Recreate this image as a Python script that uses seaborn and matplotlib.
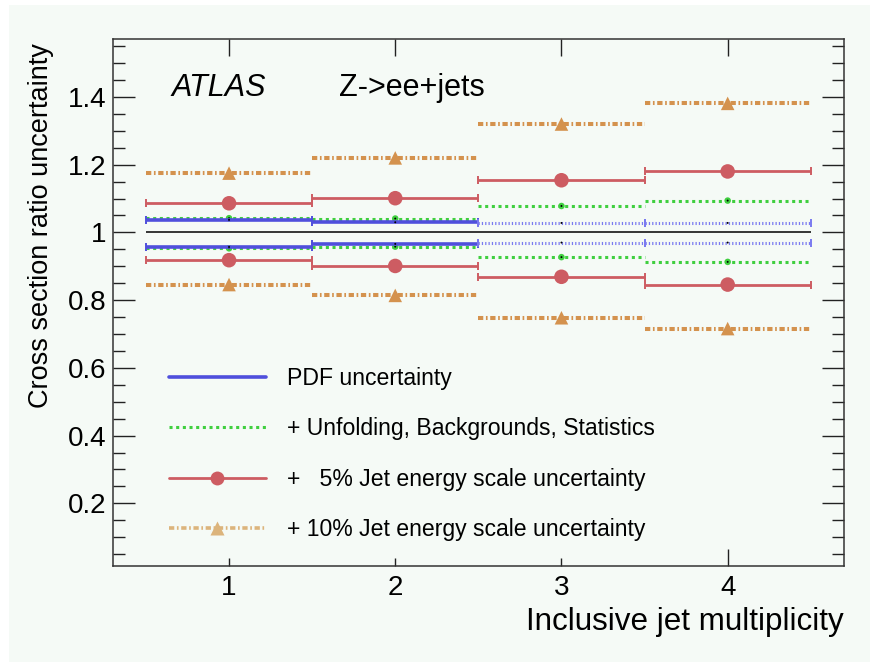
import matplotlib
matplotlib.use("Agg")
import matplotlib.pyplot as plt
import numpy as np
import pandas as pd
import seaborn as sns
from matplotlib.lines import Line2D
from matplotlib.patches import Rectangle
from matplotlib.ticker import FixedLocator, MultipleLocator, FuncFormatter

# ---- data: relative uncertainty bands per inclusive jet multiplicity bin ----
n_jets = [1, 2, 3, 4]
pdf_up = [1.037, 1.030, 1.028, 1.028]
pdf_dn = [0.957, 0.966, 0.970, 0.970]
unf_up = [1.042, 1.041, 1.078, 1.094]
unf_dn = [0.953, 0.958, 0.927, 0.913]
jes5_up = [1.086, 1.101, 1.154, 1.180]
jes5_dn = [0.918, 0.901, 0.869, 0.846]
jes10_up = [1.175, 1.220, 1.320, 1.381]
jes10_dn = [0.846, 0.814, 0.748, 0.716]
legend_labels = [
    "PDF uncertainty",
    "+ Unfolding, Backgrounds, Statistics",
    "+   5% Jet energy scale uncertainty",
    "+ 10% Jet energy scale uncertainty",
]

BG = "#f5faf6"
BLUE = "#4f4fdc"
BLUE_LIGHT = "#7a7af0"
GREEN = "#3fcf3f"
RED = "#cd5c62"
ORANGE = "#d4924e"
ORANGE_LEG = "#dcb47c"

sns.set_theme(style="ticks")
plt.rcParams["font.family"] = ["Liberation Sans", "DejaVu Sans"]
plt.rcParams["lines.scale_dashes"] = False
plt.rcParams["text.color"] = "black"
plt.rcParams["xtick.color"] = "black"
plt.rcParams["ytick.color"] = "black"
plt.rcParams["xtick.labelcolor"] = "black"
plt.rcParams["ytick.labelcolor"] = "black"

fig = plt.figure(figsize=(8.79, 6.67), dpi=100)
fig.patch.set_facecolor("white")
fig.patches.append(Rectangle((9 / 879, 5 / 667), 861 / 879, 657 / 667,
                             transform=fig.transFigure, facecolor=BG,
                             edgecolor="none", zorder=-10))
ax = fig.add_axes([0.1282, 0.1514, 0.8320, 0.7906])
ax.set_facecolor(BG)

half_width = 0.5
DASHDOT = (0, (3.8, 1.9, 1.2, 1.9))
GREEN_DOT = (0, (2.2, 2.6))
FINE_DOT = (0, (0.9, 1.5))


def band(values, color, lw, styles, cap, z):
    """Horizontal bin-wide bars, one per jet multiplicity bin."""
    for x, y, style in zip(n_jets, values, styles):
        eb = ax.errorbar([x], [y], xerr=half_width, fmt="none", ecolor=color,
                         elinewidth=lw, capsize=cap, capthick=1.4, zorder=z)
        for lc in eb.lines[2]:
            lc.set_linestyle(style)


# nominal reference line
ax.hlines(1.0, n_jets[0] - half_width, n_jets[-1] + half_width,
          color="black", lw=1.1, zorder=1)

# 10% JES (outermost)
for vals in (jes10_up, jes10_dn):
    band(vals, ORANGE, 2.9, [DASHDOT] * 4, 0, 2)
    sns.scatterplot(x=n_jets, y=vals, marker="^", s=95, color=ORANGE,
                    edgecolor="none", ax=ax, legend=False, zorder=3)

# 5% JES
for vals in (jes5_up, jes5_dn):
    band(vals, RED, 2.0, ["solid"] * 4, 2.6, 4)
    sns.scatterplot(x=n_jets, y=vals, marker="o", s=110, color=RED,
                    edgecolor="none", ax=ax, legend=False, zorder=5)

# unfolding, backgrounds, statistics
for vals in (unf_up, unf_dn):
    band(vals, GREEN, 2.2, [GREEN_DOT] * 4, 0, 6)
    sns.scatterplot(x=n_jets, y=vals, marker="o", s=22, color=GREEN,
                    edgecolor="none", ax=ax, legend=False, zorder=7)
    sns.scatterplot(x=n_jets, y=vals, marker="o", s=2, color="black",
                    edgecolor="none", ax=ax, legend=False, zorder=8)

# PDF
pdf_styles = ["solid", "solid", FINE_DOT, FINE_DOT]
for vals in (pdf_up, pdf_dn):
    for x, y, style in zip(n_jets, vals, pdf_styles):
        solid = style == "solid"
        eb = ax.errorbar([x], [y], xerr=half_width, fmt="none",
                         ecolor=BLUE if solid else BLUE_LIGHT,
                         elinewidth=2.6 if solid else 2.2,
                         capsize=2.6, capthick=1.4, zorder=9)
        for lc in eb.lines[2]:
            lc.set_linestyle(style)
    sns.scatterplot(x=n_jets, y=vals, marker="o", s=2, color="black",
                    edgecolor="none", ax=ax, legend=False, zorder=10)

# axes ranges and ticks
ax.set_xlim(0.3, 4.7)
ax.set_ylim(0.015, 1.572)
ax.xaxis.set_major_locator(FixedLocator(n_jets))
ax.xaxis.set_major_formatter(FuncFormatter(lambda v, p: f"{v:g}"))
ax.yaxis.set_major_locator(MultipleLocator(0.2))
ax.yaxis.set_minor_locator(MultipleLocator(0.05))
ax.yaxis.set_major_formatter(FuncFormatter(lambda v, p: f"{v:g}"))
ax.tick_params(axis="y", which="major", direction="in", length=15.8, width=1.0,
               left=True, right=True, labelsize=20, pad=4.3, color="#222222")
ax.tick_params(axis="y", which="minor", direction="in", length=8.6, width=1.0,
               left=True, right=True, color="#222222")
ax.tick_params(axis="x", which="major", direction="in", length=12.2, width=1.0,
               top=True, bottom=True, labelsize=20, pad=6.5, color="#222222")
for t in ax.xaxis.get_major_ticks()[:3]:
    t.tick1line.set_markersize(6.0)
for s in ax.spines.values():
    s.set_visible(True)
    s.set_color("#333333")
    s.set_linewidth(1.1)
ax.set_xlabel("")
ax.set_ylabel("")

# axis titles
fig.text(844 / 879, 1 - 630 / 667, "Inclusive jet multiplicity", fontsize=22.6,
         ha="right", va="baseline")
fig.text(41 / 879, 1 - 43 / 667, "Cross section ratio uncertainty", fontsize=19.5,
         rotation=90, ha="center", va="top")

# labels in the frame
fig.text(171.7 / 879, 1 - 96 / 667, "ATLAS", fontsize=22, style="italic",
         ha="left", va="baseline")
fig.text(339 / 879, 1 - 96 / 667, "Z->ee+jets", fontsize=22,
         ha="left", va="baseline")

# legend
handles = [
    Line2D([], [], color=BLUE, lw=2.6),
    Line2D([], [], color=GREEN, lw=2.2, ls=GREEN_DOT),
    Line2D([], [], color=RED, lw=2.0, marker="o", ms=10, mec="none"),
    Line2D([], [], color=ORANGE_LEG, lw=2.6, ls=DASHDOT, marker="^", ms=9.5,
           mec="none"),
]
ax.legend(handles, legend_labels, loc="upper left",
          bbox_to_anchor=(169 / 879, 1 - 367 / 667),
          bbox_transform=fig.transFigure, frameon=False, fontsize=16.6,
          handlelength=4.2, handletextpad=0.9, labelspacing=1.19,
          borderpad=0, borderaxespad=0)

fig.savefig("out.png", dpi=100, facecolor="white")
